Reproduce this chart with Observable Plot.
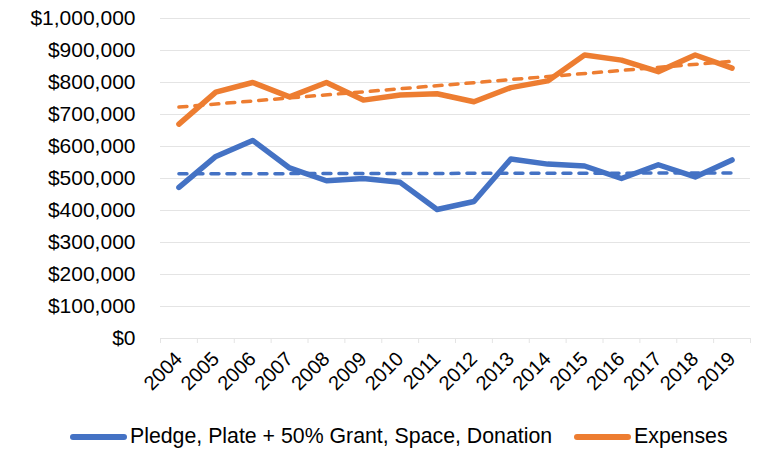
<!DOCTYPE html>
<html>
<head>
<meta charset="utf-8">
<script src="https://cdn.jsdelivr.net/npm/d3@7"></script>
<script src="https://cdn.jsdelivr.net/npm/@observablehq/plot@0.6"></script>
<style>
  html, body { margin: 0; padding: 0; background: #fff; }
  body { width: 758px; height: 449px; overflow: hidden; font-family: "Liberation Sans", Arial, sans-serif; }
  #legend { display: flex; align-items: center; height: 29px; padding-left: 70px; font-size: 21.3px; color: #000; margin-top: 2px; }
  .sw { display: inline-block; width: 57px; height: 6px; border-radius: 3px; margin-right: 3px; }
  .item { display: flex; align-items: center; margin-right: 22px; white-space: nowrap; }
</style>
</head>
<body>
<div id="chart"></div>
<div id="legend"></div>
<script>
const years = [2004, 2005, 2006, 2007, 2008, 2009, 2010, 2011, 2012, 2013, 2014, 2015, 2016, 2017, 2018, 2019];
const income = [472000, 569000, 619000, 533000, 493000, 500000, 488000, 403000, 428000, 561000, 545000, 539000, 500000, 543000, 505000, 558000];
const expenses = [670000, 770000, 800000, 755000, 800000, 745000, 761000, 765000, 740000, 784000, 805000, 886000, 870000, 834000, 886000, 845000];
const yTicks = [0, 100000, 200000, 300000, 400000, 500000, 600000, 700000, 800000, 900000, 1000000];
const seriesNames = ["Pledge, Plate + 50% Grant, Space, Donation", "Expenses"];
const colors = ["#4472C4", "#ED7D31"];

const data = years.map((y, i) => ({year: y, income: income[i], expenses: expenses[i]}));
const bounds = [years[0] - 0.5, ...years.map(y => y + 0.5)];
const grid = "#e4e4e4";

const chart = Plot.plot({
  width: 758,
  height: 420,
  marginLeft: 160,
  marginRight: 8,
  marginTop: 18,
  marginBottom: 82,
  style: {fontFamily: "'Liberation Sans', Arial, sans-serif", fontSize: "20px", color: "#000", background: "#fff"},
  x: {domain: [years[0] - 0.5, years[years.length - 1] + 0.5], label: null},
  y: {domain: [0, 1000000], label: null},
  marks: [
    Plot.gridY(yTicks, {stroke: grid, strokeOpacity: 1, strokeWidth: 1}),
    Plot.axisY(yTicks, {tickSize: 0, tickPadding: 25, tickFormat: d => "$" + d3.format(",")(d), fontSize: 21, label: null}),
    Plot.axisX(bounds, {tickSize: 5, stroke: grid, strokeOpacity: 1, tickFormat: () => "", label: null}),
    Plot.axisX(years, {tickSize: 0, tickRotate: -45, tickPadding: 17, tickFormat: d => String(d), fontSize: 20, label: null}),
    Plot.line(data, {x: "year", y: "income", stroke: colors[0], strokeWidth: 5.5, strokeLinecap: "round", strokeLinejoin: "round"}),
    Plot.line(data, {x: "year", y: "expenses", stroke: colors[1], strokeWidth: 5.5, strokeLinecap: "round", strokeLinejoin: "round"}),
    Plot.linearRegressionY(data, {x: "year", y: "income", stroke: colors[0], ci: 0, strokeWidth: 3.5, strokeOpacity: 1, strokeDasharray: "8,8", strokeLinecap: "round"}),
    Plot.linearRegressionY(data, {x: "year", y: "expenses", stroke: colors[1], ci: 0, strokeWidth: 3.5, strokeOpacity: 1, strokeDasharray: "8,8", strokeLinecap: "round"})
  ]
});
document.getElementById("chart").appendChild(chart);

const legend = document.getElementById("legend");
seriesNames.forEach((name, i) => {
  const item = document.createElement("span");
  item.className = "item";
  const sw = document.createElement("span");
  sw.className = "sw";
  sw.style.background = colors[i];
  item.appendChild(sw);
  item.appendChild(document.createTextNode(name));
  legend.appendChild(item);
});
</script>
</body>
</html>
